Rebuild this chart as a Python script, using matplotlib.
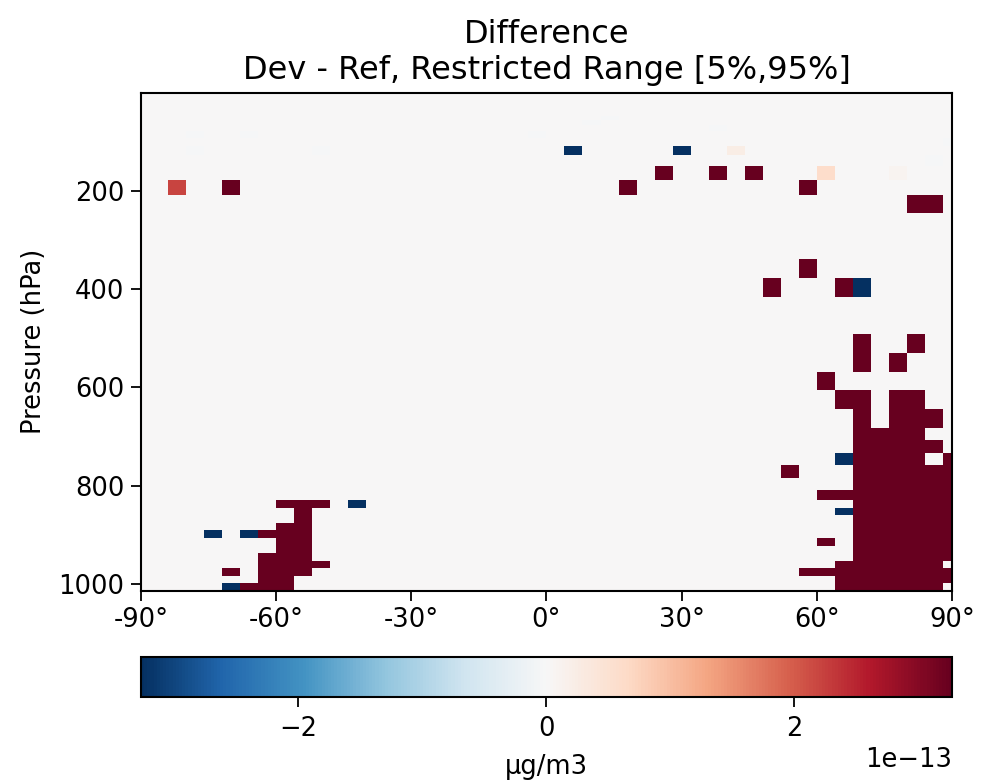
import numpy as np
import matplotlib
matplotlib.use("Agg")
import matplotlib.pyplot as plt

# ---- grid (4x5 latitude edges, GEOS 72-level pressure edges, hPa) ----
lat_edges = [-90] + list(range(-88, 89, 4)) + [90]
lat_centers = [-89] + list(range(-86, 87, 4)) + [89]
pres_edges = [1013.25, 998.05, 982.76, 967.47, 952.19, 936.91, 921.63, 906.34,
              891.06, 875.78, 860.49, 845.21, 829.93, 809.55, 784.08, 758.63,
              733.16, 707.70, 682.24, 644.05, 605.88, 567.71, 529.55, 491.40,
              453.27, 415.15, 377.07, 339.01, 288.93, 245.25, 208.24, 176.93,
              150.39, 127.84, 108.66, 92.366, 78.512, 66.603, 56.388, 47.644,
              40.175, 33.810, 28.368, 23.730, 19.792, 16.457, 13.643, 11.277,
              9.293, 7.620, 6.217, 5.047, 4.077, 3.276, 2.620, 2.085, 1.651,
              1.301, 1.019, 0.795, 0.617, 0.476, 0.365, 0.279, 0.211, 0.159,
              0.120, 0.089, 0.066, 0.048, 0.033, 0.020, 0.010]

# ---- data: level index -> latitudes of saturated positive / negative cells ----
N = [70, 74, 78, 82, 86, 89]
high_pos = {
    0: [-66, -62, -58, 66, 70, 74, 78, 82, 86],
    1: [-62, -58, 66] + N,
    2: [-70, -62, -58, -54, 58, 62, 66] + N,
    3: [-62, -58, -54, -50, 66, 70, 74, 78, 82, 86],
    4: [-62, -58, -54] + N,
    5: [-58, -54] + N,
    6: [-58, -54, 62] + N,
    7: [-62, -58, -54] + N,
    8: [-58, -54] + N,
    9: [-54] + N,
    10: [-54] + N,
    11: [-58, -54, -50] + N,
    12: [62, 66] + N,
    13: N,
    14: [54] + N,
    15: [70, 74, 78, 82, 89],
    16: [70, 74, 78, 82, 86],
    17: [70, 74, 78, 82],
    18: [70, 78, 82, 86],
    19: [66, 70, 78, 82],
    20: [62],
    21: [70, 78],
    22: [70, 82],
    25: [50, 66],
    26: [58],
    29: [82, 86],
    30: [-70, 18, 58],
    31: [26, 38, 46],
}
high_neg = {
    0: [-70],
    7: [-74, -66],
    10: [66],
    11: [-42],
    15: [66],
    25: [70],
    33: [6, 30],
}
sat_value = 4.0e-13
# (latitude, level, value) for unsaturated cells
other_lats = [-82, 62, 42, 78, -78, -78, -66, -50, -2, 10, 14, 38, 86, 89]
other_levels = [30, 31, 33, 31, 33, 35, 35, 33, 35, 37, 38, 36, 32, 34]
other_values = [2.2e-13, 0.6e-13, 0.25e-13, 0.08e-13, -0.04e-13, -0.04e-13,
                -0.04e-13, -0.04e-13, -0.04e-13, -0.04e-13, -0.04e-13,
                -0.04e-13, -0.04e-13, -0.04e-13]
vmax = 3.27e-13
x_ticks = [-90, -60, -30, 0, 30, 60, 90]
x_labels = ['-90°', '-60°', '-30°', '0°', '30°', '60°', '90°']
y_ticks = [200, 400, 600, 800, 1000]
cbar_ticks = [-2e-13, 0, 2e-13]

# ---- build field ----
nlev = len(pres_edges) - 1
nlat = len(lat_centers)
field = np.zeros((nlev, nlat))
lat_index = {c: i for i, c in enumerate(lat_centers)}
for lev, lats in high_pos.items():
    for la in lats:
        field[lev, lat_index[la]] = sat_value
for lev, lats in high_neg.items():
    for la in lats:
        field[lev, lat_index[la]] = -sat_value
for la, lev, v in zip(other_lats, other_levels, other_values):
    field[lev, lat_index[la]] = v

# ---- plot ----
FS = 18.5
fig = plt.figure(figsize=(9.99, 7.83), dpi=100)
ax = fig.add_axes([0.1411, 0.2458, 0.8118, 0.636])
mesh = ax.pcolormesh(lat_edges, pres_edges, field, cmap='RdBu_r',
                     vmin=-vmax, vmax=vmax, shading='flat')
ax.set_xlim(-90, 90)
ax.set_ylim(1013.25, 0.01)
ax.set_xticks(x_ticks)
ax.set_xticklabels(x_labels)
ax.set_yticks(y_ticks)
ax.tick_params(labelsize=FS, length=7, width=1.3, pad=5)
for s in ax.spines.values():
    s.set_linewidth(1.5)
ax.set_ylabel('Pressure (hPa)', fontsize=FS, labelpad=8)
ax.set_title('Difference\nDev - Ref, Restricted Range [5%,95%]', fontsize=23,
             pad=10)

cax = fig.add_axes([0.1411, 0.1098, 0.8118, 0.0511])
cb = fig.colorbar(mesh, cax=cax, orientation='horizontal')
cb.set_ticks(cbar_ticks)
cb.ax.tick_params(labelsize=FS, length=7, width=1.3, pad=7)
cb.ax.xaxis.get_offset_text().set_fontsize(FS)
cb.outline.set_linewidth(1.5)
cb.set_label('µg/m3', fontsize=FS, labelpad=8)

fig.savefig('out.png', dpi=100)
